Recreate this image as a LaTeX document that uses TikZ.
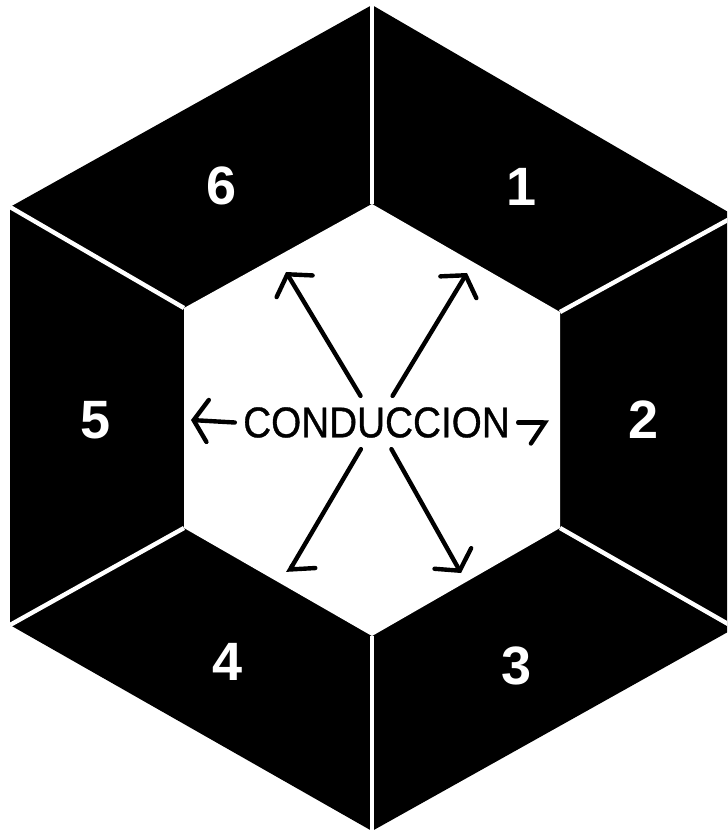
\documentclass[tikz,border=0pt]{standalone}
\usepackage{fontspec}
\setmainfont{Liberation Sans}
\newfontfamily\condfont[FakeStretch=0.9,FakeBold=0.8]{Liberation Sans}
\usetikzlibrary{arrows.meta}

\begin{document}
\begin{tikzpicture}[x=0.5pt,y=-0.5pt,
    sepline/.style={white,line width=2.2pt},
    sectnum/.style={text=white,inner sep=0pt,font=\bfseries\fontsize{27}{27}\selectfont},
    label/.style={font=\condfont\fontsize{21.5}{21.5}\selectfont,inner xsep=4pt,inner ysep=5.5pt},
    flow/.style={line width=2.2pt,line cap=round,line join=round,
      -{Straight Barb[length=7pt,width=21pt,line cap=round]}},
    hookL/.style={line width=2.2pt,line cap=round,line join=round,
      -{Straight Barb[length=7pt,width=21pt,left,line cap=round]}},
    hookR/.style={line width=2.2pt,line cap=round,line join=round,
      -{Straight Barb[length=7pt,width=21pt,right,line cap=round]}}]
    \useasboundingbox (0,0) rectangle (727,833);
    \clip (0,0) rectangle (727,833);
    \coordinate (o1) at (372,5);
    \coordinate (o2) at (735,216);
    \coordinate (o3) at (735,628);
    \coordinate (o4) at (372,831);
    \coordinate (o5) at (10,625);
    \coordinate (o6) at (10,207);
    \coordinate (i1) at (372,204);
    \coordinate (i2) at (560,312);
    \coordinate (i3) at (560,528);
    \coordinate (i4) at (372,636);
    \coordinate (i5) at (184,528);
    \coordinate (i6) at (184,308);
    \fill[black] (o1)--(o2)--(o3)--(o4)--(o5)--(o6)--cycle;
    \fill[white] (i1)--(i2)--(i3)--(i4)--(i5)--(i6)--cycle;
    \foreach \k in {1,...,6} \draw[sepline] (i\k) -- (o\k);
    \draw[sepline] (o1) -- (372,0);
    \draw[sepline] (o4) -- (372,833);
    \node[sectnum] (s1) at (522,187) {1};
    \node[sectnum] (s2) at (644,420) {2};
    \node[sectnum] (s3) at (517,666) {3};
    \node[sectnum] (s4) at (228,662) {4};
    \node[sectnum] (s5) at (96,420) {5};
    \node[sectnum] (s6) at (222,186) {6};
    \node[label] (cond) at (376.5,422.5) {CONDUCCION};
    \coordinate (tipUL) at (286,272);
    \coordinate (tipUR) at (467,273);
    \coordinate (tipLL) at (288,573);
    \coordinate (tipLR) at (461,573);
    \coordinate (tipW) at (191,420);
    \coordinate (tipE) at (549,422.5);
    \draw[flow] (cond) -- (tipUL);
    \draw[flow] (cond) -- (tipUR);
    \draw[hookL] (cond) -- (tipLL);
    \draw[flow] (cond) -- (tipLR);
    \draw[flow] (cond.west) -- (tipW);
    \draw[hookR] (cond.east) -- (tipE);
\end{tikzpicture}
\end{document}
